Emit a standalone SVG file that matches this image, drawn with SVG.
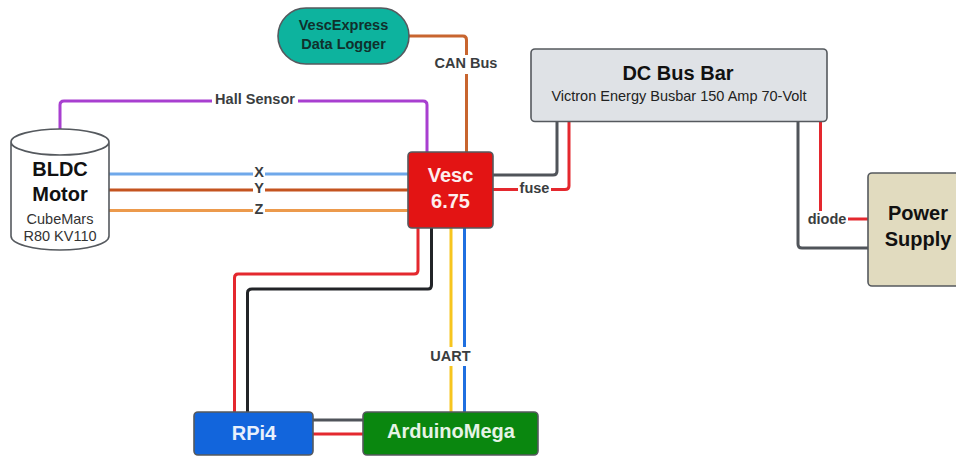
<svg xmlns="http://www.w3.org/2000/svg" width="956" height="458" viewBox="0 0 956 458">
<style>
text{font-family:"Liberation Sans",Arial,sans-serif;text-anchor:middle}
.c{fill:none;stroke-width:3;stroke-linejoin:round}
.l{font-size:14.5px;font-weight:bold;fill:#3a3d40}
.n{stroke:#55595e;stroke-width:1.6}
.b{font-weight:bold}
</style>
<rect width="956" height="458" fill="#fff"/>
<g id="connectors">
<path class="c" d="M60 129V105Q60 101 64 101H423Q427 101 427 105V152" stroke="#a83fd0"/>
<path class="c" d="M108 174H408" stroke="#6fa8ea"/>
<path class="c" d="M108 190H408" stroke="#c4531f"/>
<path class="c" d="M108 210.500H408" stroke="#ec9a4c"/>
<path class="c" d="M408 36H463Q466.500 36 466.500 40V152" stroke="#c8652f"/>
<path class="c" d="M493 175H553Q557 175 557 171V121" stroke="#50545a"/>
<path class="c" d="M493 189.500H565Q569 189.500 569 186V121" stroke="#e4282e"/>
<path class="c" d="M820.500 121V219H868" stroke="#e4282e"/>
<path class="c" d="M798 121V244Q798 248 802 248H868" stroke="#50545a"/>
<path class="c" d="M418 228V270Q418 274 414 274H238Q234.500 274 234.500 278V412" stroke="#e4282e"/>
<path class="c" d="M431.500 228V285Q431.500 289 428 289H252Q247.500 289 247.500 293V412" stroke="#222428"/>
<path class="c" d="M451 228V412" stroke="#f7c51e"/>
<path class="c" d="M464.500 228V412" stroke="#1f6fe0"/>
<path class="c" d="M313 420H363" stroke="#50545a"/>
<path class="c" d="M313 434H363" stroke="#e4282e"/>
</g>
<g id="labels">
<rect x="212" y="92" width="86" height="18" fill="#fff"/>
<text class="l" x="255" y="104">Hall Sensor</text>
<rect x="253" y="165" width="12" height="16" fill="#fff"/>
<text class="l" x="259" y="177">X</text>
<rect x="253" y="182" width="12" height="14" fill="#fff"/>
<text class="l" x="259" y="193">Y</text>
<rect x="253" y="202" width="12" height="16" fill="#fff"/>
<text class="l" x="259" y="214">Z</text>
<rect x="432" y="55" width="68" height="19" fill="#fff"/>
<text class="l" x="466" y="68">CAN Bus</text>
<rect x="518" y="181" width="33" height="16" fill="#fff"/>
<text class="l" x="534.500" y="193">fuse</text>
<rect x="806" y="211" width="42" height="16" fill="#fff"/>
<text class="l" x="827" y="224">diode</text>
<rect x="429" y="347" width="44" height="19" fill="#fff"/>
<text class="l" x="450.500" y="361">UART</text>
</g>
<g id="vescexpress">
<rect class="n" x="278" y="8" width="131" height="56" rx="28" fill="#0db39e"/>
<text class="b" x="343.500" y="30" font-size="14.500" fill="#10302c">VescExpress</text>
<text class="b" x="343.500" y="49" font-size="14.500" fill="#10302c">Data Logger</text>
</g>
<g id="motor">
<path class="n" d="M11 142V236C11 244 33 250 60 250S109 244 109 236V142C109 135 87 129 60 129S11 135 11 142C11 149 33 155 60 155S109 149 109 142" fill="#fff"/>
<text class="b" x="60" y="176" font-size="20" fill="#111">BLDC</text>
<text class="b" x="60" y="201" font-size="20" fill="#111">Motor</text>
<text x="60" y="224" font-size="14.500" fill="#333">CubeMars</text>
<text x="60" y="241" font-size="14.500" fill="#333">R80 KV110</text>
</g>
<g id="vesc">
<rect class="n" x="408" y="152" width="85" height="76" rx="4" fill="#e31414"/>
<text class="b" x="450.500" y="182" font-size="20" fill="#fdeeee">Vesc</text>
<text class="b" x="450.500" y="208" font-size="20" fill="#fdeeee">6.75</text>
</g>
<g id="busbar">
<rect class="n" x="531" y="49" width="296" height="72.500" rx="4" fill="#dfe2e6"/>
<text class="b" x="678" y="80" font-size="20" fill="#111">DC Bus Bar</text>
<text x="679" y="101" font-size="14.500" fill="#222">Victron Energy Busbar 150 Amp 70-Volt</text>
</g>
<g id="power">
<rect class="n" x="868" y="173" width="100" height="113" rx="4" fill="#e1dbbf"/>
<text class="b" x="918" y="220" font-size="20" fill="#111">Power</text>
<text class="b" x="918" y="246" font-size="20" fill="#111">Supply</text>
</g>
<g id="rpi4">
<rect class="n" x="194" y="412" width="119" height="43" rx="4" fill="#1265dc"/>
<text class="b" x="254" y="440" font-size="20" fill="#e8f0fc">RPi4</text>
</g>
<g id="arduino">
<rect class="n" x="363" y="412" width="175" height="43" rx="4" fill="#0a870f"/>
<text class="b" x="451" y="438" font-size="20" fill="#e6f4e6">ArduinoMega</text>
</g>
</svg>
